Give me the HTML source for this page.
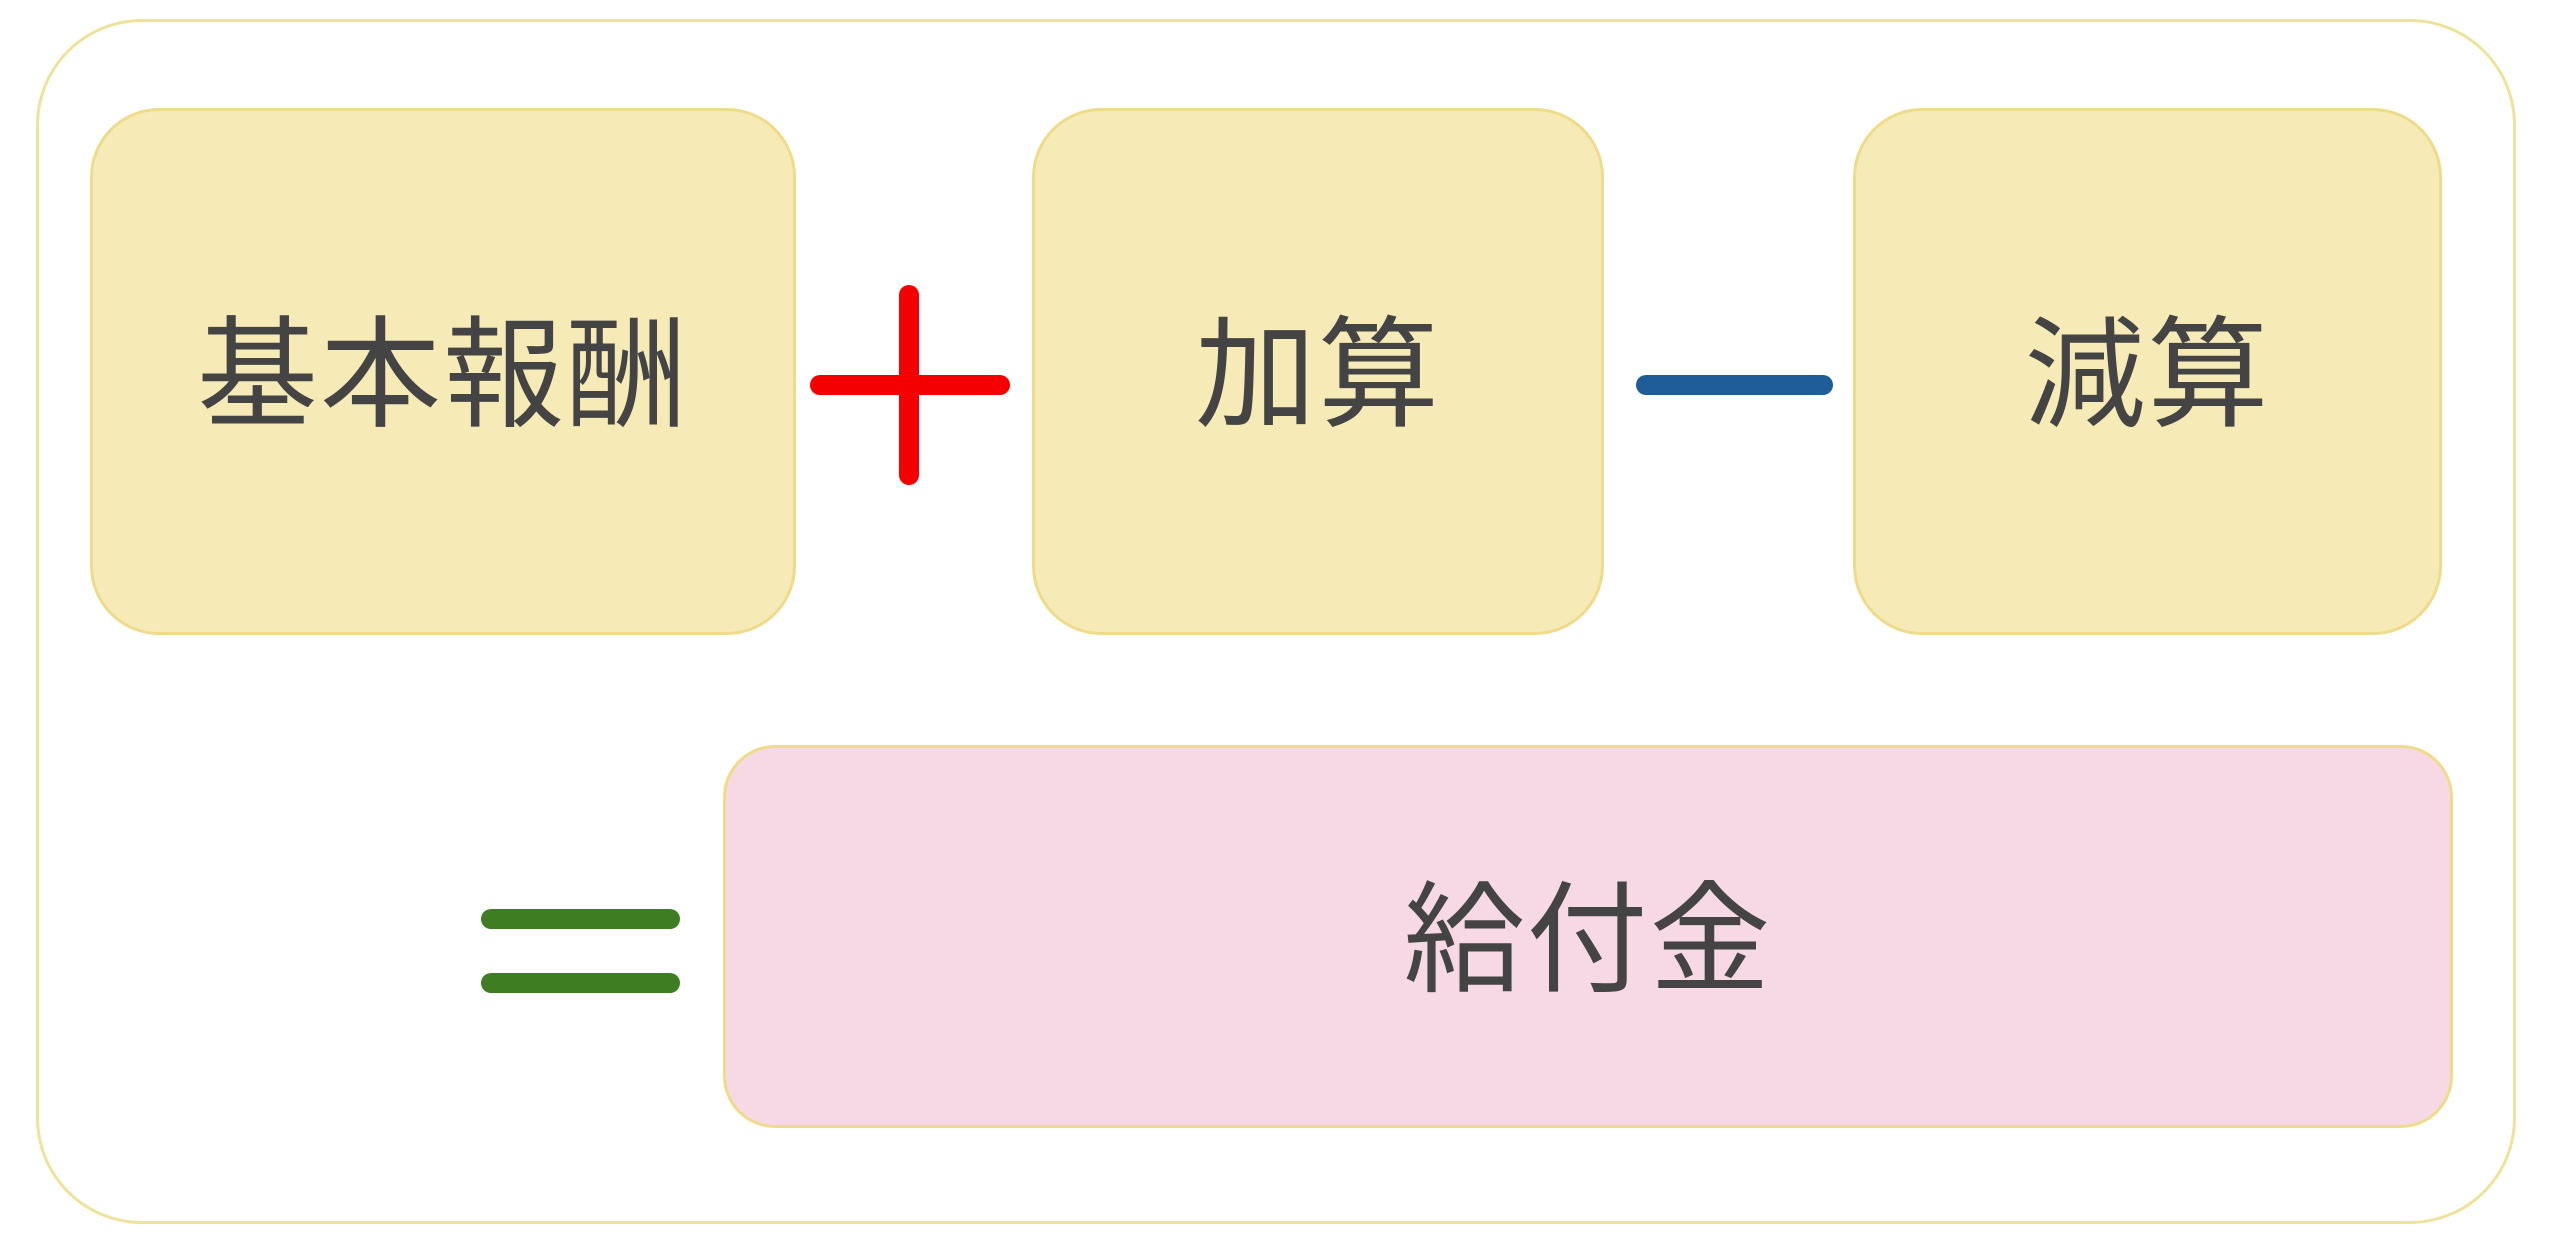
<!DOCTYPE html>
<html><head><meta charset="utf-8"><style>
html,body{margin:0;padding:0;background:#fff}
body{width:2560px;height:1247px;position:relative;overflow:hidden;font-family:"Liberation Sans","Noto Sans CJK JP",sans-serif}
.b{position:absolute;box-sizing:border-box;display:flex;align-items:center;justify-content:center;color:#444;font-size:121px;letter-spacing:2px}
.y{background:#f6ebb6;border:3px solid #efdc8a;border-radius:69px}
.bar{position:absolute;border-radius:10px}
</style></head><body>
<div class="b" style="left:36px;top:19px;width:2480px;height:1205px;border:3px solid #efe29a;border-radius:106px"></div>
<div class="b y" style="left:90px;top:108px;width:706px;height:527px;padding-bottom:14px">基本報酬</div>
<div class="b y" style="left:1032px;top:108px;width:572px;height:527px;padding-bottom:14px">加算</div>
<div class="b y" style="left:1853px;top:108px;width:589px;height:527px;padding-bottom:14px">減算</div>
<div class="b" style="left:723px;top:745px;width:1730px;height:383px;background:#f6d9e4;border:3px solid #efdc8a;border-radius:52px;padding-bottom:14px">給付金</div>
<div class="bar" style="left:810px;top:375px;width:200px;height:20px;background:#f50000"></div>
<div class="bar" style="left:899px;top:285px;width:20px;height:200px;background:#f50000"></div>
<div class="bar" style="left:1636px;top:375px;width:197px;height:20px;background:#1f5d99"></div>
<div class="bar" style="left:481px;top:909px;width:199px;height:20px;background:#3f7d22"></div>
<div class="bar" style="left:481px;top:973px;width:199px;height:20px;background:#3f7d22"></div>
</body></html>
